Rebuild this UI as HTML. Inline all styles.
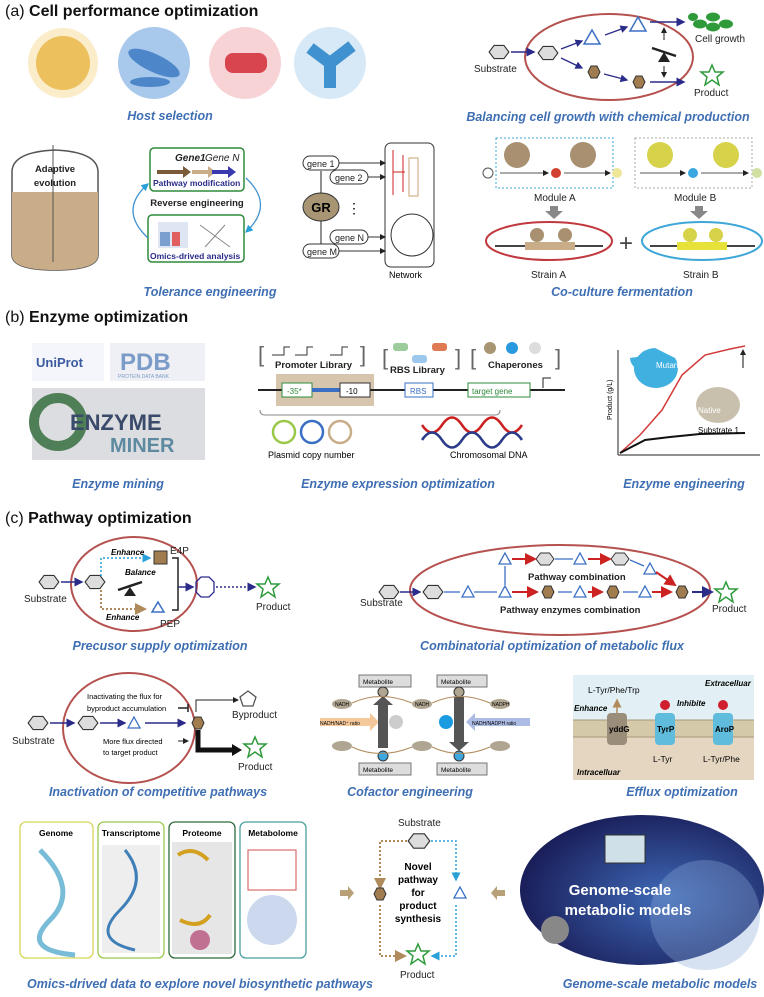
<!DOCTYPE html>
<html><head><meta charset="utf-8"><style>
html,body{margin:0;padding:0;background:#fff}
svg{display:block}
text{font-family:"Liberation Sans",sans-serif}
.t{font-size:16px;font-weight:bold;fill:#111}
.c{font-size:12.5px;font-weight:bold;font-style:italic;fill:#3f6fb3;text-anchor:middle}
.s{font-size:10px;fill:#222}
.b{font-size:9.5px;font-weight:bold;fill:#222}
</style></head><body>
<svg width="764" height="997" viewBox="0 0 764 997" xmlns="http://www.w3.org/2000/svg">
<defs>
<marker id="a" markerWidth="6" markerHeight="6" refX="5" refY="3" orient="auto"><path d="M0,0L6,3L0,6z" fill="#2b2b8a"/></marker>
<marker id="ar" markerWidth="6" markerHeight="6" refX="5" refY="3" orient="auto"><path d="M0,0L6,3L0,6z" fill="#c22"/></marker>
<marker id="ak" markerWidth="6" markerHeight="6" refX="5" refY="3" orient="auto"><path d="M0,0L6,3L0,6z" fill="#222"/></marker>
<marker id="ab" markerWidth="6" markerHeight="6" refX="5" refY="3" orient="auto"><path d="M0,0L6,3L0,6z" fill="#2aa0d8"/></marker>
<marker id="at" markerWidth="6" markerHeight="6" refX="5" refY="3" orient="auto"><path d="M0,0L6,3L0,6z" fill="#b08a5a"/></marker>
<symbol id="hx" viewBox="-10 -7 20 14"><path d="M-9,0L-4.5,-6H4.5L9,0L4.5,6H-4.5z" fill="#ddd" stroke="#333" stroke-width="1"/></symbol>
<symbol id="hb" viewBox="-10 -7 20 14"><path d="M-6,0L-3,-6H3L6,0L3,6H-3z" fill="#a07c4e" stroke="#333" stroke-width="1"/></symbol>
</defs>

<!-- (a) -->
<text x="5" y="16" class="t"><tspan font-weight="normal">(a)</tspan> Cell performance optimization</text>
<circle cx="63" cy="63" r="35" fill="#f2c14e" opacity=".3"/>
<circle cx="63" cy="63" r="27" fill="#e8b23a" opacity=".75"/>
<circle cx="154" cy="63" r="36" fill="#a9c9ec"/>
<ellipse cx="154" cy="63" rx="28" ry="9" fill="#4d86c9" transform="rotate(25 154 63)"/>
<ellipse cx="150" cy="82" rx="20" ry="5" fill="#4d86c9"/>
<circle cx="245" cy="63" r="36" fill="#f7d3d6"/>
<rect x="225" y="53" width="42" height="20" rx="8" fill="#d9454f"/>
<circle cx="330" cy="63" r="36" fill="#d7e9f6"/>
<path d="M310,48L330,63L352,46M330,63L330,88" stroke="#3f91cf" stroke-width="12" fill="none"/>
<text x="170" y="120" class="c">Host selection</text>

<ellipse cx="609" cy="57" rx="84" ry="43" fill="none" stroke="#b5524f" stroke-width="2"/>
<use href="#hx" x="488" y="44" width="22" height="16"/>
<text x="474" y="72" class="s" font-size="10.5">Substrate</text>
<line x1="511" y1="52" x2="534" y2="52" stroke="#2b2b8a" stroke-width="1.5" marker-end="url(#a)"/>
<use href="#hx" x="537" y="45" width="22" height="16"/>
<path d="M592,30L600,44H584z" fill="none" stroke="#3a6fc4" stroke-width="1.5"/>
<path d="M638,17L646,31H630z" fill="none" stroke="#3a6fc4" stroke-width="1.5"/>
<line x1="561" y1="49" x2="582" y2="41" stroke="#2b2b8a" stroke-width="1.3" marker-end="url(#a)"/>
<line x1="605" y1="35" x2="627" y2="27" stroke="#2b2b8a" stroke-width="1.3" marker-end="url(#a)"/>
<use href="#hb" x="584" y="65" width="20" height="14"/>
<use href="#hb" x="629" y="75" width="20" height="14"/>
<line x1="561" y1="58" x2="582" y2="68" stroke="#2b2b8a" stroke-width="1.3" marker-end="url(#a)"/>
<line x1="604" y1="74" x2="627" y2="80" stroke="#2b2b8a" stroke-width="1.3" marker-end="url(#a)"/>
<line x1="650" y1="22" x2="684" y2="22" stroke="#2b2b8a" stroke-width="1.5" marker-end="url(#a)"/>
<line x1="650" y1="82" x2="684" y2="82" stroke="#2b2b8a" stroke-width="1.5" marker-end="url(#a)"/>
<line x1="664" y1="40" x2="664" y2="28" stroke="#222" marker-end="url(#ak)"/>
<line x1="664" y1="66" x2="664" y2="77" stroke="#222" marker-end="url(#ak)"/>
<path d="M652,48L676,56" stroke="#222" stroke-width="2.5"/><path d="M664,52L670,62H658z" fill="#222"/>
<ellipse cx="700" cy="24" rx="7" ry="4.5" fill="#2e9a3a"/><ellipse cx="713" cy="17" rx="7" ry="4.5" fill="#2e9a3a"/><ellipse cx="726" cy="24" rx="7" ry="4.5" fill="#2e9a3a"/><ellipse cx="713" cy="27" rx="7" ry="4.5" fill="#2e9a3a"/><ellipse cx="693" cy="17" rx="5" ry="4" fill="#2e9a3a"/>
<text x="695" y="42" class="s" font-size="10.5">Cell growth</text>
<path d="M712,65L715,72L723,72L717,77L719,85L712,80L705,85L707,77L701,72L709,72z" fill="none" stroke="#2e9a3a" stroke-width="1.5"/>
<text x="694" y="96" class="s" font-size="10.5">Product</text>
<text x="608" y="121" class="c">Balancing cell growth with chemical production</text>

<!-- tank -->
<path d="M12,172Q12,152 55,150Q98,152 98,172V255Q98,270 55,270Q12,270 12,255z" fill="#fff" stroke="#555" stroke-width="1.5"/>
<path d="M12,192H98V255Q98,270 55,270Q12,270 12,255z" fill="#c9ad89"/>
<line x1="53" y1="145" x2="53" y2="262" stroke="#555"/>
<text x="55" y="172" class="b" text-anchor="middle" font-size="10.5">Adaptive</text>
<text x="55" y="186" class="b" text-anchor="middle" font-size="10.5">evolution</text>
<rect x="150" y="148" width="94" height="43" rx="4" fill="#fff" stroke="#2e8a3a" stroke-width="1.5"/>
<path d="M157,170h26v-4l8,6-8,6v-4h-26z" fill="#7b5a3a"/><path d="M192,170h16v-4l8,6-8,6v-4h-16z" fill="#c9ad89"/><path d="M212,170h16v-4l8,6-8,6v-4h-16z" fill="#3a3ab0"/>
<text x="175" y="161" class="s" font-size="7.5" font-style="italic" font-weight="bold">Gene1</text><text x="205" y="161" class="s" font-size="7.5" font-style="italic">Gene N</text>
<text x="153" y="186" font-size="8.5" font-weight="bold" fill="#2b2b8a">Pathway modification</text>
<text x="197" y="206" class="b" text-anchor="middle" font-size="10.5">Reverse engineering</text>
<rect x="148" y="215" width="96" height="47" rx="4" fill="#fff" stroke="#2e8a3a" stroke-width="1.5"/>
<rect x="158" y="222" width="30" height="26" fill="#dde6f2"/><rect x="160" y="232" width="10" height="14" fill="#7aa0d0"/><rect x="172" y="232" width="8" height="14" fill="#e06060"/><path d="M200,225L230,247M205,247L225,225" stroke="#888"/>
<text x="150" y="259" font-size="8.5" font-weight="bold" fill="#2b2b8a">Omics-drived analysis</text>
<path d="M148,238Q118,210 148,184" fill="none" stroke="#3f91cf" stroke-width="1.3" marker-end="url(#ab)"/>
<path d="M246,178Q275,205 246,232" fill="none" stroke="#3f91cf" stroke-width="1.3" marker-end="url(#ab)"/>
<text x="210" y="296" class="c">Tolerance engineering</text>

<ellipse cx="321" cy="207" rx="18" ry="14" fill="#a89574" stroke="#333"/>
<text x="321" y="212" text-anchor="middle" font-size="13" font-weight="bold">GR</text>
<g font-size="9" fill="#222">
<rect x="303" y="156" width="36" height="14" rx="7" fill="#fff" stroke="#333"/><text x="307" y="167">gene 1</text>
<rect x="330" y="170" width="38" height="14" rx="7" fill="#fff" stroke="#333"/><text x="335" y="181">gene 2</text>
<rect x="330" y="230" width="38" height="14" rx="7" fill="#fff" stroke="#333"/><text x="335" y="241">gene N</text>
<rect x="303" y="244" width="36" height="14" rx="7" fill="#fff" stroke="#333"/><text x="307" y="255">gene M</text></g>
<text x="347" y="213" font-size="14">⋮</text>
<line x1="321" y1="171" x2="321" y2="193" stroke="#222"/><line x1="321" y1="221" x2="321" y2="244" stroke="#222"/>
<rect x="385" y="143" width="49" height="124" rx="6" fill="#fff" stroke="#333"/>
<circle cx="412" cy="235" r="21" fill="none" stroke="#333"/>
<path d="M393,150V195M393,172h12M403,155V192" stroke="#c22" fill="none"/>
<rect x="409" y="158" width="9" height="38" fill="none" stroke="#c9a070"/>
<line x1="339" y1="163" x2="385" y2="163" stroke="#333" marker-end="url(#ak)"/>
<line x1="368" y1="177" x2="385" y2="177" stroke="#333" marker-end="url(#ak)"/>
<line x1="368" y1="237" x2="385" y2="237" stroke="#333" marker-end="url(#ak)"/>
<line x1="339" y1="251" x2="385" y2="251" stroke="#333" marker-end="url(#ak)"/>
<text x="389" y="278" font-size="9">Network</text>

<rect x="496" y="138" width="117" height="50" fill="none" stroke="#3fa7d8" stroke-dasharray="2,2"/>
<rect x="635" y="138" width="117" height="50" fill="none" stroke="#aaa" stroke-dasharray="2,2"/>
<circle cx="517" cy="155" r="13" fill="#a89070"/><circle cx="583" cy="155" r="13" fill="#a89070"/>
<circle cx="660" cy="155" r="13" fill="#d6d24a"/><circle cx="726" cy="155" r="13" fill="#d6d24a"/>
<circle cx="488" cy="173" r="5" fill="#fff" stroke="#555"/>
<line x1="500" y1="173" x2="548" y2="173" stroke="#555" marker-end="url(#ak)"/><circle cx="556" cy="173" r="5" fill="#d2412f"/>
<line x1="564" y1="173" x2="610" y2="173" stroke="#555" marker-end="url(#ak)"/><circle cx="617" cy="173" r="5" fill="#eee79a"/>
<line x1="640" y1="173" x2="685" y2="173" stroke="#555" marker-end="url(#ak)"/><circle cx="693" cy="173" r="5" fill="#3aa7e0"/>
<line x1="701" y1="173" x2="748" y2="173" stroke="#555" marker-end="url(#ak)"/><circle cx="757" cy="173" r="5" fill="#cfe0a0"/>
<text x="534" y="201" class="s" font-size="10">Module A</text><text x="674" y="201" class="s" font-size="10">Module B</text>
<path d="M550,206h8v5h5l-9,8-9-8h5z" fill="#888"/><path d="M695,206h8v5h5l-9,8-9-8h5z" fill="#888"/>
<ellipse cx="549" cy="241" rx="63" ry="19" fill="none" stroke="#c0393f" stroke-width="2"/>
<ellipse cx="702" cy="241" rx="60" ry="19" fill="none" stroke="#3fa7d8" stroke-width="2"/>
<line x1="495" y1="246" x2="603" y2="246" stroke="#444" stroke-width="2"/><line x1="650" y1="246" x2="755" y2="246" stroke="#444" stroke-width="2"/>
<rect x="525" y="242" width="50" height="8" fill="#c9ad89"/><rect x="677" y="242" width="50" height="8" fill="#e6e23a"/>
<circle cx="537" cy="235" r="7" fill="#a89070"/><circle cx="565" cy="235" r="7" fill="#a89070"/><circle cx="690" cy="235" r="7" fill="#d6d24a"/><circle cx="716" cy="235" r="7" fill="#d6d24a"/>
<text x="626" y="251" font-size="24" fill="#444" text-anchor="middle">+</text>
<text x="531" y="278" class="s" font-size="10">Strain A</text><text x="683" y="278" class="s" font-size="10">Strain B</text>
<text x="622" y="296" class="c">Co-culture fermentation</text>

<!-- (b) -->
<text x="5" y="322" class="t"><tspan font-weight="normal">(b)</tspan> Enzyme optimization</text>
<rect x="32" y="343" width="72" height="38" fill="#f4f6fb"/>
<text x="36" y="367" font-size="13" font-weight="bold" fill="#3b5aa0">UniProt</text>
<rect x="110" y="343" width="95" height="38" fill="#eef0f5"/>
<text x="120" y="370" font-size="24" font-weight="bold" fill="#7b9cc8">PDB</text>
<text x="118" y="378" font-size="5" fill="#7b9cc8">PROTEIN DATA BANK</text>
<rect x="32" y="388" width="173" height="72" fill="#dcdde0"/>
<circle cx="58" cy="422" r="24" fill="none" stroke="#4f7f56" stroke-width="10"/>
<text x="70" y="430" font-size="22" font-weight="bold" fill="#3a4a6a">ENZYME</text>
<text x="110" y="452" font-size="20" font-weight="bold" fill="#5d8aa0">MINER</text>
<text x="118" y="488" class="c">Enzyme mining</text>

<text x="258" y="362" font-size="22" fill="#666">[</text><text x="360" y="362" font-size="22" fill="#666">]</text>
<text x="275" y="368" class="b" font-size="10">Promoter Library</text>
<path d="M272,355h12v-8h6M295,355h12v-8h6M330,355h12v-8h6" stroke="#333" fill="none"/>
<text x="382" y="365" font-size="22" fill="#666">[</text><text x="455" y="365" font-size="22" fill="#666">]</text>
<rect x="393" y="343" width="15" height="8" rx="3" fill="#9ccc9c"/><rect x="432" y="343" width="15" height="8" rx="3" fill="#e07a52"/><rect x="412" y="355" width="15" height="8" rx="3" fill="#9cc8ee"/>
<text x="390" y="373" class="b" font-size="10">RBS Library</text>
<text x="470" y="365" font-size="22" fill="#666">[</text><text x="555" y="365" font-size="22" fill="#666">]</text>
<circle cx="490" cy="348" r="6" fill="#a89574"/><circle cx="512" cy="348" r="6" fill="#2a9ae0"/><circle cx="535" cy="348" r="6" fill="#ddd"/>
<text x="488" y="368" class="b" font-size="10">Chaperones</text>
<rect x="276" y="374" width="98" height="32" fill="#d7c6ad"/>
<line x1="258" y1="390" x2="565" y2="390" stroke="#222" stroke-width="2"/>
<rect x="282" y="383" width="30" height="14" fill="#fff" stroke="#2e8a3a"/><text x="287" y="394" font-size="8" fill="#2e8a3a">-35*</text>
<rect x="312" y="388" width="28" height="4" fill="#3a6fc4"/>
<rect x="340" y="383" width="30" height="14" fill="#fff" stroke="#333"/><text x="346" y="394" font-size="8">-10</text>
<rect x="405" y="383" width="28" height="14" fill="#fff" stroke="#3a6fc4"/><text x="410" y="394" font-size="8" fill="#3a6fc4">RBS</text>
<rect x="468" y="383" width="62" height="14" fill="#fff" stroke="#2e8a3a"/><text x="472" y="394" font-size="8" fill="#2e8a3a">target gene</text>
<path d="M543,388v-10h8" stroke="#222" fill="none"/>
<path d="M260,410q0,5 5,5h230q5,0 5,-5" stroke="#888" fill="none"/>
<circle cx="284" cy="432" r="11" fill="none" stroke="#9cc84a" stroke-width="2.5"/><circle cx="312" cy="432" r="11" fill="none" stroke="#3a6fc4" stroke-width="2.5"/><circle cx="340" cy="432" r="11" fill="none" stroke="#c9ad89" stroke-width="2.5"/>
<text x="268" y="458" font-size="9">Plasmid copy number</text>
<path d="M422,425q10,15 20,0t20,0t20,0t20,0t20,0" stroke="#c22" stroke-width="2.5" fill="none"/>
<path d="M422,440q10,-15 20,0t20,0t20,0t20,0t20,0" stroke="#2b3b8a" stroke-width="2.5" fill="none"/>
<text x="450" y="458" font-size="9">Chromosomal DNA</text>
<text x="398" y="488" class="c">Enzyme expression optimization</text>

<line x1="618" y1="350" x2="618" y2="455" stroke="#222"/><line x1="618" y1="455" x2="760" y2="455" stroke="#222"/>
<text x="612" y="420" font-size="7" font-family="Liberation Serif" transform="rotate(-90 612 420)">Product (g/L)</text>
<polyline points="620,453 640,435 662,410 682,375 705,355 730,349 745,346" fill="none" stroke="#d23a3a" stroke-width="1.5"/>
<polyline points="620,453 645,440 670,437 700,434 745,433" fill="none" stroke="#111" stroke-width="2"/>
<path d="M655,348a22,20 0 1,0 20,10" fill="#3fb0e0"/>
<path d="M630,358a18,14 0 1 0 36,0l-10,0a8,6 0 1 1 0,-4z" fill="#3fb0e0"/>
<text x="656" y="368" font-size="8" fill="#fff" font-family="Liberation Serif">Mutant</text>
<ellipse cx="718" cy="405" rx="22" ry="18" fill="#c8c0ac"/>
<text x="698" y="413" font-size="8" fill="#fff" font-family="Liberation Serif">Native</text>
<text x="698" y="433" font-size="8" font-family="Liberation Serif">Substrate 1</text>
<line x1="743" y1="368" x2="743" y2="350" stroke="#111" marker-end="url(#ak)"/>
<text x="684" y="488" class="c">Enzyme engineering</text>

<!-- (c) -->
<text x="5" y="523" class="t"><tspan font-weight="normal">(c)</tspan> Pathway optimization</text>
<ellipse cx="134" cy="584" rx="63" ry="47" fill="none" stroke="#b5524f" stroke-width="2"/>
<use href="#hx" x="38" y="574" width="22" height="16"/>
<text x="24" y="602" class="s" font-size="10">Substrate</text>
<line x1="61" y1="582" x2="82" y2="582" stroke="#2b2b8a" stroke-width="1.5" marker-end="url(#a)"/>
<use href="#hx" x="84" y="574" width="22" height="16"/>
<path d="M101,576V558H150" stroke="#2aa0d8" stroke-width="1.5" stroke-dasharray="2,2" fill="none" marker-end="url(#ab)"/>
<path d="M101,590V609H145" stroke="#b08a5a" stroke-width="2" stroke-dasharray="2,2" fill="none" marker-end="url(#at)"/>
<text x="111" y="555" font-size="8" font-weight="bold" font-style="italic">Enhance</text>
<text x="106" y="620" font-size="8" font-weight="bold" font-style="italic">Enhance</text>
<rect x="154" y="551" width="13" height="13" fill="#a07c4e" stroke="#333"/>
<text x="170" y="554" class="s">E4P</text>
<path d="M158,602L164,612H152z" fill="none" stroke="#3a6fc4" stroke-width="1.5"/>
<text x="160" y="627" class="s">PEP</text>
<path d="M172,558H178V610H172" stroke="#222" stroke-width="1.5" fill="none"/>
<text x="125" y="575" font-size="8" font-weight="bold" font-style="italic">Balance</text>
<path d="M118,590L142,582" stroke="#222" stroke-width="2.5"/><path d="M130,587L136,596H124z" fill="#222"/>
<line x1="178" y1="587" x2="193" y2="587" stroke="#2b2b8a" stroke-width="1.5" marker-end="url(#a)"/>
<path d="M196,582L201,577H209L214,582V592L209,597H201L196,592z" fill="none" stroke="#2b2b8a" stroke-width="1.3"/>
<line x1="216" y1="587" x2="255" y2="587" stroke="#2b2b8a" stroke-width="1.5" stroke-dasharray="2,2" marker-end="url(#a)"/>
<path d="M268,577L271,584L279,584L273,589L275,597L268,592L261,597L263,589L257,584L265,584z" fill="none" stroke="#2e9a3a" stroke-width="1.5"/>
<text x="256" y="610" class="s" font-size="10">Product</text>
<text x="160" y="650" class="c">Precusor supply optimization</text>

<ellipse cx="560" cy="590" rx="150" ry="45" fill="none" stroke="#b5524f" stroke-width="2"/>
<use href="#hx" x="378" y="584" width="22" height="16"/>
<text x="360" y="606" class="s" font-size="10">Substrate</text>
<line x1="400" y1="592" x2="420" y2="592" stroke="#2b2b8a" stroke-width="1.5" marker-end="url(#a)"/>
<use href="#hx" x="422" y="584" width="22" height="16"/>
<g fill="none" stroke="#3a6fc4" stroke-width="1.3">
<path d="M468,586L474,597H462z"/><path d="M505,586L511,597H499z"/><path d="M580,586L586,597H574z"/><path d="M645,586L651,597H639z"/>
<path d="M505,553L511,564H499z"/><path d="M580,553L586,564H574z"/><path d="M650,563L656,574H644z"/></g>
<use href="#hb" x="538" y="585" width="20" height="14"/><use href="#hb" x="603" y="585" width="20" height="14"/><use href="#hb" x="672" y="585" width="20" height="14"/>
<use href="#hx" x="535" y="552" width="20" height="14"/><use href="#hx" x="610" y="552" width="20" height="14"/>
<g stroke-width="1.3"><line x1="444" y1="592" x2="460" y2="592" stroke="#3a6fc4"/><line x1="474" y1="592" x2="497" y2="592" stroke="#3a6fc4"/>
<line x1="512" y1="592" x2="537" y2="592" stroke="#c22" stroke-width="2" marker-end="url(#ar)"/><line x1="558" y1="592" x2="572" y2="592" stroke="#3a6fc4"/>
<line x1="588" y1="592" x2="602" y2="592" stroke="#c22" stroke-width="2" marker-end="url(#ar)"/><line x1="623" y1="592" x2="638" y2="592" stroke="#3a6fc4"/>
<line x1="652" y1="592" x2="671" y2="592" stroke="#c22" stroke-width="2" marker-end="url(#ar)"/>
<line x1="505" y1="585" x2="505" y2="566" stroke="#3a6fc4"/>
<line x1="512" y1="559" x2="535" y2="559" stroke="#c22" stroke-width="2" marker-end="url(#ar)"/><line x1="555" y1="559" x2="573" y2="559" stroke="#3a6fc4"/>
<line x1="588" y1="559" x2="610" y2="559" stroke="#c22" stroke-width="2" marker-end="url(#ar)"/><line x1="630" y1="560" x2="644" y2="566" stroke="#3a6fc4"/>
<line x1="656" y1="572" x2="675" y2="585" stroke="#c22" stroke-width="2" marker-end="url(#ar)"/>
<line x1="692" y1="592" x2="712" y2="592" stroke="#2b2b8a" stroke-width="2" marker-end="url(#a)"/></g>
<text x="528" y="580" class="b" font-size="10">Pathway combination</text>
<text x="500" y="613" class="b" font-size="10">Pathway enzymes combination</text>
<path d="M726,582L729,589L737,589L731,594L733,602L726,597L719,602L721,594L715,589L723,589z" fill="none" stroke="#2e9a3a" stroke-width="1.5"/>
<text x="712" y="612" class="s" font-size="10">Product</text>
<text x="552" y="650" class="c">Combinatorial optimization of metabolic flux</text>

<!-- inactivation -->
<ellipse cx="129" cy="728" rx="66" ry="55" fill="none" stroke="#b5524f" stroke-width="2"/>
<use href="#hx" x="27" y="715" width="22" height="16"/>
<text x="12" y="744" class="s" font-size="10">Substrate</text>
<use href="#hx" x="77" y="715" width="22" height="16"/>
<line x1="50" y1="723" x2="74" y2="723" stroke="#2b2b8a" stroke-width="1.5" marker-end="url(#a)"/>
<line x1="100" y1="723" x2="125" y2="723" stroke="#2b2b8a" stroke-width="1.5" marker-end="url(#a)"/>
<path d="M134,717L140,728H128z" fill="none" stroke="#3a6fc4" stroke-width="1.3"/>
<line x1="145" y1="723" x2="185" y2="723" stroke="#2b2b8a" stroke-width="1.5" marker-end="url(#a)"/>
<use href="#hb" x="188" y="716" width="20" height="14"/>
<text x="87" y="699" font-size="7.5">Inactivating the flux for</text>
<text x="87" y="711" font-size="7.5">byproduct accumulation</text>
<path d="M178,708H188M188,704V712" stroke="#222" stroke-width="1.5"/>
<path d="M196,712V700H238" stroke="#222" fill="none" marker-end="url(#ak)"/>
<path d="M248,691L256,697L253,706H243L240,697z" fill="none" stroke="#555" stroke-width="1.3"/>
<text x="232" y="718" class="s" font-size="10">Byproduct</text>
<text x="103" y="744" font-size="7.5">More flux directed</text>
<text x="103" y="755" font-size="7.5">to target product</text>
<line x1="178" y1="741" x2="188" y2="741" stroke="#222" marker-end="url(#ak)"/>
<path d="M198,730V750H232" stroke="#111" stroke-width="5" fill="none"/><path d="M232,744L242,750L232,756z" fill="#111"/>
<path d="M255,737L258,744L266,744L260,749L262,757L255,752L248,757L250,749L244,744L252,744z" fill="none" stroke="#2e9a3a" stroke-width="1.5"/>
<text x="238" y="770" class="s" font-size="10">Product</text>
<text x="158" y="796" class="c">Inactivation of competitive pathways</text>

<!-- cofactor -->
<g font-size="6.5">
<rect x="359" y="675" width="52" height="12" fill="#ddd" stroke="#777"/><text x="363" y="684">Metabolite</text>
<rect x="437" y="675" width="50" height="12" fill="#ddd" stroke="#777"/><text x="441" y="684">Metabolite</text>
<rect x="359" y="763" width="52" height="12" fill="#ddd" stroke="#777"/><text x="363" y="772">Metabolite</text>
<rect x="437" y="763" width="50" height="12" fill="#ddd" stroke="#777"/><text x="441" y="772">Metabolite</text>
<ellipse cx="342" cy="704" rx="10" ry="5" fill="#b0a590"/><text x="335" y="706" font-size="5">NADH</text>
<ellipse cx="422" cy="704" rx="10" ry="5" fill="#b0a590"/><text x="415" y="706" font-size="5">NADH</text>
<ellipse cx="500" cy="704" rx="10" ry="5" fill="#b0a590"/><text x="492" y="706" font-size="5">NADPH</text>
<ellipse cx="342" cy="746" rx="10" ry="5" fill="#b0a590"/><ellipse cx="422" cy="746" rx="10" ry="5" fill="#b0a590"/><ellipse cx="500" cy="746" rx="10" ry="5" fill="#b0a590"/>
</g>
<path d="M320,718h50v-5l9,9-9,9v-5h-50z" fill="#f0b070" opacity=".7"/>
<path d="M530,718h-55v-5l-9,9 9,9v-5h55z" fill="#8aa0d8" opacity=".7"/>
<text x="320" y="725" font-size="5">NADH/NAD⁺ ratio</text><text x="472" y="725" font-size="5">NADH/NADPH ratio</text>
<path d="M378,748V705h-5l10,-9 10,9h-5v43z" fill="#555"/>
<path d="M454,697v45h-5l10,9 10,-9h-5v-45z" fill="#555"/>
<circle cx="383" cy="692" r="5" fill="#b0a590" stroke="#333"/><circle cx="459" cy="692" r="5" fill="#b0a590" stroke="#333"/>
<circle cx="383" cy="756" r="5" fill="#3fa7e0" stroke="#333"/><circle cx="459" cy="756" r="5" fill="#3fa7e0" stroke="#333"/>
<circle cx="396" cy="722" r="7" fill="#ccc"/><circle cx="446" cy="722" r="7" fill="#1a9ae0"/>
<path d="M352,703Q380,690 412,703M432,703Q460,690 490,703M352,747Q380,760 412,747M432,747Q460,760 490,747" fill="none" stroke="#b08a5a"/>
<text x="410" y="796" class="c">Cofactor engineering</text>

<!-- efflux -->
<rect x="573" y="675" width="181" height="105" fill="#e2f0f5"/>
<rect x="573" y="728" width="181" height="52" fill="#e4d6c0"/>
<rect x="573" y="720" width="181" height="17" fill="#d4c9a8"/>
<g fill="none" stroke="#a89878"><line x1="573" y1="720" x2="754" y2="720"/><line x1="573" y1="737" x2="754" y2="737"/></g>
<text x="705" y="686" font-size="8" font-weight="bold" font-style="italic">Extracelluar</text>
<text x="577" y="775" font-size="8" font-weight="bold" font-style="italic">Intracelluar</text>
<text x="588" y="693" font-size="8.5">L-Tyr/Phe/Trp</text>
<text x="574" y="711" font-size="8" font-weight="bold" font-style="italic">Enhance</text>
<text x="677" y="706" font-size="8" font-weight="bold" font-style="italic">Inhibite</text>
<line x1="617" y1="745" x2="617" y2="700" stroke="#b08a5a" stroke-width="1.5" marker-end="url(#at)"/>
<rect x="607" y="713" width="20" height="32" rx="4" fill="#9a8d7a"/><text x="609" y="732" font-size="8" font-weight="bold">yddG</text>
<rect x="655" y="713" width="20" height="32" rx="4" fill="#5fbcdc"/><text x="657" y="732" font-size="8" font-weight="bold">TyrP</text>
<rect x="713" y="713" width="20" height="32" rx="4" fill="#5fbcdc"/><text x="715" y="732" font-size="8" font-weight="bold">AroP</text>
<circle cx="665" cy="705" r="5" fill="#d02030"/><circle cx="723" cy="705" r="5" fill="#d02030"/>
<text x="653" y="762" font-size="8.5">L-Tyr</text><text x="703" y="762" font-size="8.5">L-Tyr/Phe</text>
<text x="682" y="796" class="c">Efflux optimization</text>

<!-- omics -->
<g fill="#fff" stroke-width="1.3">
<rect x="20" y="822" width="73" height="136" rx="6" stroke="#d6d65a"/>
<rect x="98" y="822" width="66" height="136" rx="6" stroke="#9cc84a"/>
<rect x="169" y="822" width="66" height="136" rx="6" stroke="#2e6a3a"/>
<rect x="240" y="822" width="66" height="136" rx="6" stroke="#4aa0a0"/></g>
<g font-size="8.5" font-weight="bold" text-anchor="middle">
<text x="56" y="836">Genome</text><text x="131" y="836">Transcriptome</text><text x="202" y="836">Proteome</text><text x="273" y="836">Metabolome</text></g>
<path d="M40,850Q80,890 50,920T75,955" fill="none" stroke="#3f9fc8" stroke-width="5" opacity=".7"/>
<rect x="102" y="845" width="58" height="108" fill="#eee"/>
<path d="M125,850Q150,880 120,910T135,950" fill="none" stroke="#3f7fb8" stroke-width="3"/>
<rect x="172" y="842" width="60" height="112" fill="#e6e6e6"/>
<path d="M178,855q15,-10 30,5M180,920q20,10 30,-5" stroke="#d4a020" stroke-width="4" fill="none"/>
<circle cx="200" cy="940" r="10" fill="#c07090"/>
<circle cx="272" cy="920" r="25" fill="#ccd8ee"/>
<rect x="248" y="850" width="48" height="40" fill="none" stroke="#d05050"/>
<path d="M340,890h8v-4l6,7-6,7v-4h-8z" fill="#b8a078"/>
<path d="M505,890h-8v-4l-6,7 6,7v-4h8z" fill="#b8a078"/>
<text x="200" y="988" class="c">Omics-drived data to explore novel biosynthetic pathways</text>

<text x="398" y="826" class="s" font-size="10">Substrate</text>
<use href="#hx" x="407" y="832" width="24" height="18"/>
<path d="M407,841H380V888" fill="none" stroke="#b08a5a" stroke-width="2" stroke-dasharray="2,2" marker-end="url(#at)"/>
<path d="M431,841H456V880" fill="none" stroke="#2aa0d8" stroke-width="1.5" stroke-dasharray="2,2" marker-end="url(#ab)"/>
<use href="#hb" x="370" y="886" width="20" height="16"/>
<path d="M460,887L466,898H454z" fill="none" stroke="#3a6fc4" stroke-width="1.3"/>
<path d="M380,905V956H405" fill="none" stroke="#b08a5a" stroke-width="2" stroke-dasharray="2,2" marker-end="url(#at)"/>
<path d="M456,905V956H432" fill="none" stroke="#2aa0d8" stroke-width="1.5" stroke-dasharray="2,2" marker-end="url(#ab)"/>
<path d="M418,944L421,951L429,951L423,956L425,964L418,959L411,964L413,956L407,951L415,951z" fill="none" stroke="#2e9a3a" stroke-width="1.5"/>
<text x="400" y="978" class="s" font-size="10">Product</text>
<g font-size="10" font-weight="bold" text-anchor="middle">
<text x="418" y="870">Novel</text><text x="418" y="883">pathway</text><text x="418" y="896">for</text><text x="418" y="909">product</text><text x="418" y="922">synthesis</text></g>

<defs><radialGradient id="g" cx="60%" cy="55%" r="60%"><stop offset="0" stop-color="#3f6ab8"/><stop offset="1" stop-color="#1a1f5a"/></radialGradient></defs>
<ellipse cx="642" cy="890" rx="122" ry="75" fill="url(#g)"/>
<circle cx="705" cy="915" r="55" fill="#8aa8d8" opacity=".35"/>
<rect x="605" y="835" width="40" height="28" fill="#cfe0e8" stroke="#333"/>
<circle cx="555" cy="930" r="14" fill="#888"/>
<text x="620" y="895" text-anchor="middle" font-size="15" font-weight="bold" fill="#fff">Genome-scale</text>
<text x="628" y="915" text-anchor="middle" font-size="15" font-weight="bold" fill="#fff">metabolic models</text>
<text x="660" y="988" class="c">Genome-scale metabolic models</text>
</svg>
</body></html>
